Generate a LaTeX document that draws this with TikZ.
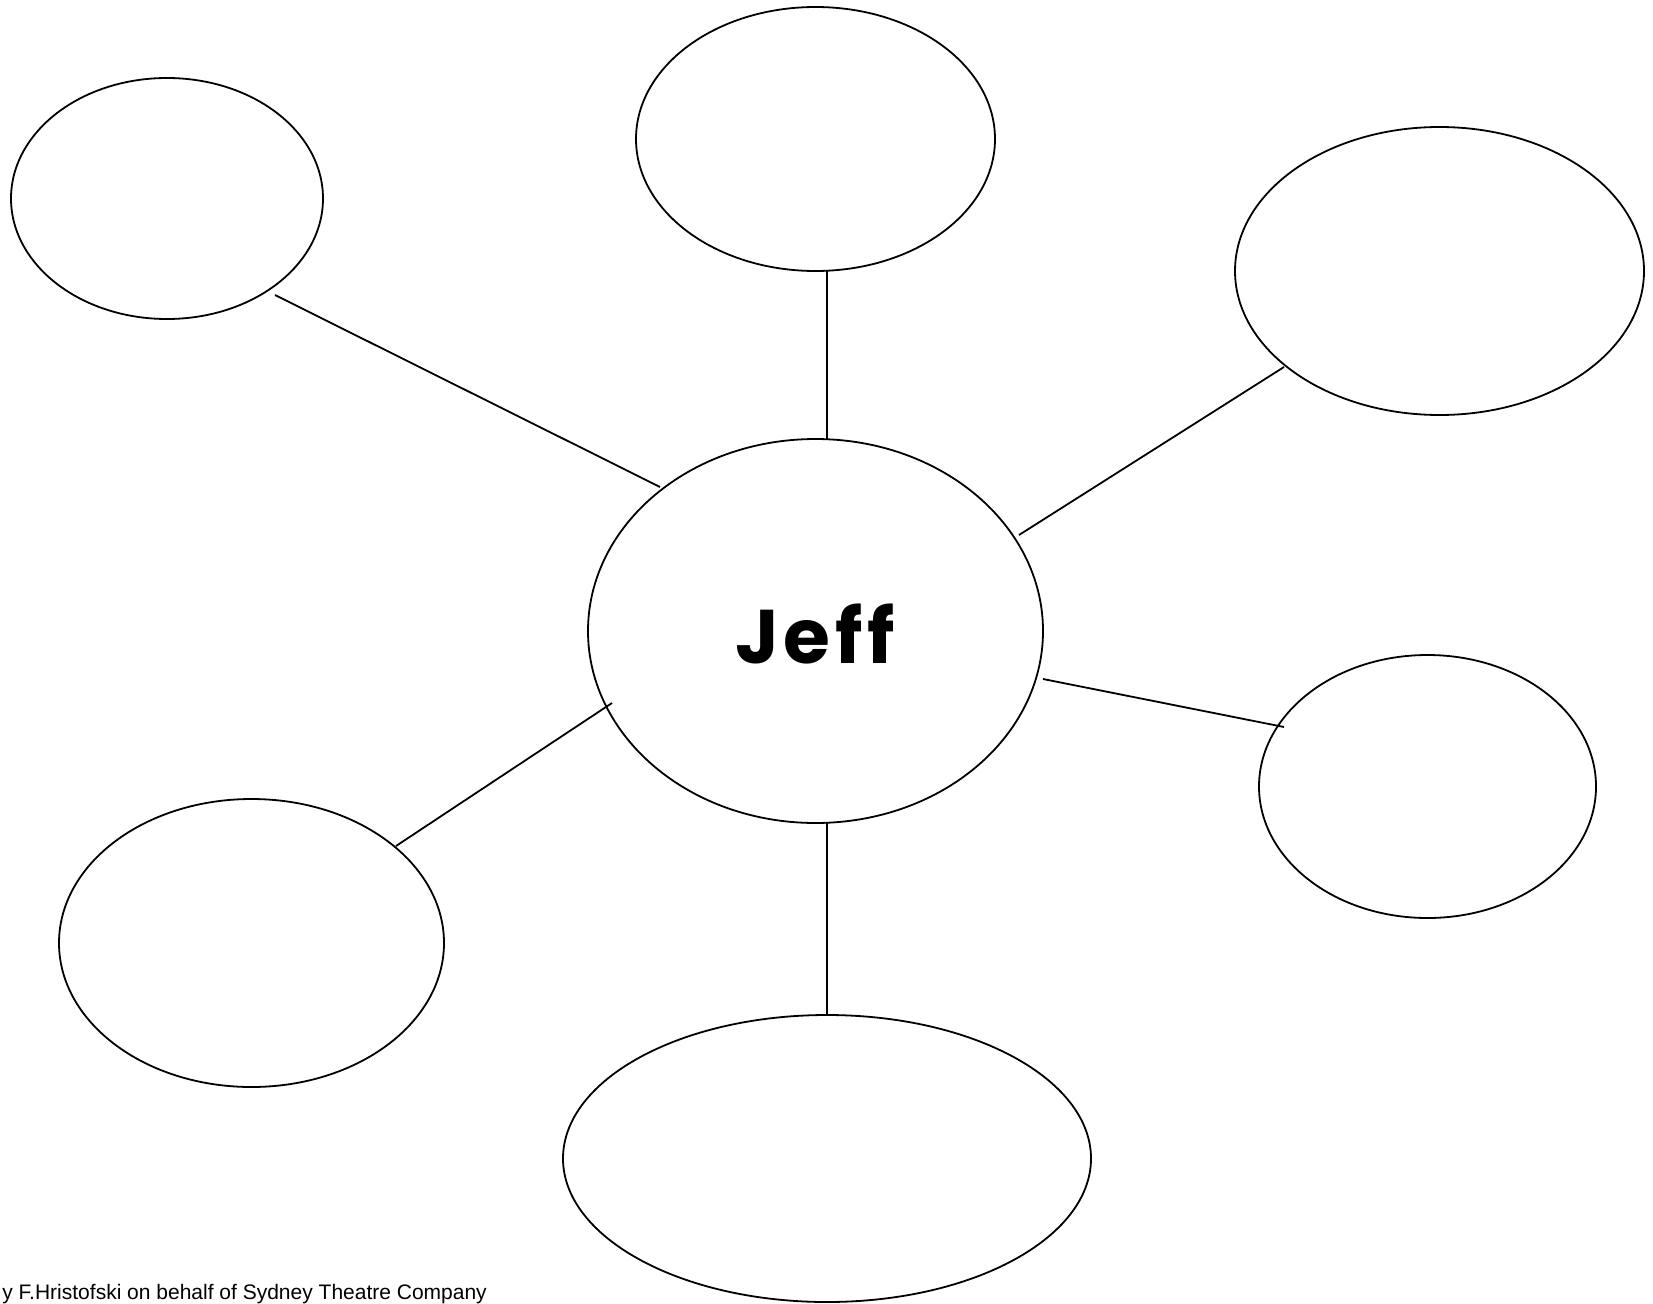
\documentclass[tikz,border=0pt]{standalone}
\usepackage{fontspec}
\setmainfont{Liberation Sans}
\newfontfamily\titlefont[Ligatures=NoCommon, LetterSpace=6]{Poppins}
\usetikzlibrary{shapes.geometric}
\begin{document}
\begin{tikzpicture}[x=1pt,y=-1pt,
  bubble/.style={draw=black, ellipse, line width=1.8pt, inner sep=0pt},
  link/.style={draw=black, line width=1.8pt}]
\useasboundingbox[fill=white] (0,0) rectangle (1653,1303);

% central bubble and the six satellites
\node[bubble, minimum width=455pt, minimum height=384pt] (c) at (815.5,631) {};
\node[bubble, minimum width=312pt, minimum height=241pt] (tl) at (167,198.5) {};
\node[bubble, minimum width=359pt, minimum height=264pt] (tc) at (815.5,139) {};
\node[bubble, minimum width=409pt, minimum height=288pt] (tr) at (1439.5,271) {};
\node[bubble, minimum width=337pt, minimum height=263pt] (r) at (1427.5,786.5) {};
\node[bubble, minimum width=385pt, minimum height=288pt] (bl) at (251.5,943) {};
\node[bubble, minimum width=528pt, minimum height=287pt] (b) at (827,1158.5) {};

\node[font=\titlefont\bfseries\fontsize{76}{76}\selectfont, anchor=base] (name) at (815,663) {Jeff};

% connector end points
\coordinate (tl-a) at (275,295);   \coordinate (tl-b) at (660,487);
\coordinate (tc-a) at (827,271);   \coordinate (tc-b) at (827,439);
\coordinate (tr-a) at (1284,367);  \coordinate (tr-b) at (1019,535);
\coordinate (r-a)  at (1284,727);  \coordinate (r-b)  at (1043,679);
\coordinate (bl-a) at (396,846);   \coordinate (bl-b) at (612,703);
\coordinate (b-a)  at (827,1015);  \coordinate (b-b)  at (827,823);

\draw[link] (tl-a) -- (tl-b);
\draw[link] (tc-a) -- (tc-b);
\draw[link] (tr-a) -- (tr-b);
\draw[link] (r-a) -- (r-b);
\draw[link] (bl-a) -- (bl-b);
\draw[link] (b-a) -- (b-b);

\node[anchor=base east, inner sep=0pt, font=\fontsize{21}{21}\selectfont] (credit) at (487,1299)
  {y F.Hristofski on behalf of Sydney Theatre Company};
\end{tikzpicture}
\end{document}
